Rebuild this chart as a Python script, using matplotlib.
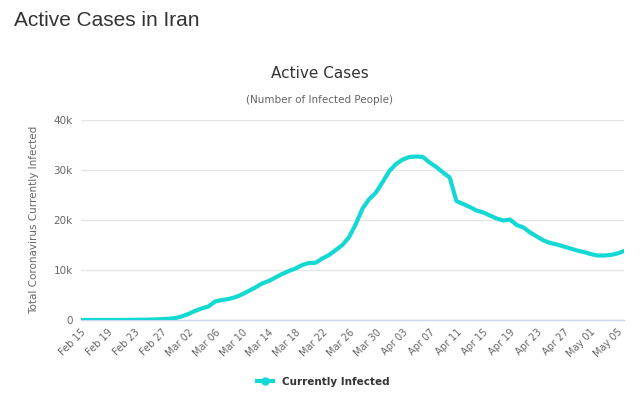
import datetime as dt
import matplotlib
matplotlib.use("Agg")
import matplotlib.pyplot as plt
from matplotlib.lines import Line2D

start = dt.date(2020, 2, 15)
active = [0, 0, 0, 0, 2, 3, 16, 24, 37, 52,
          80, 110, 160, 250, 380, 700, 1200, 1800, 2300, 2700,
          3700, 4000, 4200, 4550, 5100, 5800, 6500, 7300, 7800, 8500,
          9200, 9800, 10300, 11000, 11400, 11450, 12300, 13000, 14000, 15000,
          16600, 19200, 22300, 24200, 25500, 27600, 29800, 31200, 32100, 32600,
          32700, 32600, 31500, 30600, 29500, 28500, 23800, 23200, 22600, 21900,
          21500, 20900, 20300, 19900, 20100, 19000, 18500, 17500, 16700, 15900,
          15400, 15100, 14700, 14300, 13900, 13600, 13200, 12900, 12900, 13000,
          13300, 13800]
dates = [start + dt.timedelta(days=i) for i in range(len(active))]
date_labels = [d.strftime("%b %d") for d in dates]
yticks = [0, 10000, 20000, 30000, 40000]
ytick_labels = ["0", "10k", "20k", "30k", "40k"]

color = "#14d8d3"
fig = plt.figure(figsize=(6.4, 4.2), dpi=100)
ax = fig.add_axes([81/640, 1-320/420, (624-81)/640, 200/420])
x = list(range(len(active)))
ax.plot(x, active, color=color, lw=3.0, solid_joinstyle="round", solid_capstyle="round", zorder=3)
ax.set_xlim(0, len(active) - 1)
ax.set_ylim(0, 40000)
ax.set_yticks(yticks)
ax.set_yticklabels(ytick_labels, color="#666666", fontsize=7.5)
tick_pos = list(range(0, len(active), 4))
ax.set_xticks(tick_pos)
ax.set_xticklabels([date_labels[i] for i in tick_pos], rotation=45, ha="right",
                   rotation_mode="anchor", color="#666666", fontsize=7)
ax.tick_params(axis="both", length=0, pad=6)
ax.tick_params(axis="x", pad=5)
for s in ["top", "right", "left"]:
    ax.spines[s].set_visible(False)
ax.spines["bottom"].set_color("#ccd6eb")
ax.spines["bottom"].set_linewidth(1)
ax.grid(axis="y", color="#e6e6e6", lw=1)
ax.set_axisbelow(True)
ax.set_ylabel("Total Coronavirus Currently Infected", color="#666666", fontsize=7.5, labelpad=10)

fig.text(14/640, 1-20/420, "Active Cases in Iran", fontsize=15, color="#333333",
         family="Liberation Sans", va="center", ha="left")
fig.text(320/640, 1-73/420, "Active Cases", fontsize=11, color="#333333", ha="center", va="center")
fig.text(320/640, 1-100/420, "(Number of Infected People)", fontsize=7.5, color="#666666",
         ha="center", va="center")

handle = Line2D([], [], color=color, lw=3, marker="o", markersize=5)
fig.legend([handle], ["Currently Infected"], loc="center", bbox_to_anchor=(323/640, 1-382/420),
           frameon=False, prop={"weight": "bold", "size": 7.5}, handlelength=1.6,
           labelcolor="#333333")
fig.savefig("out.png", dpi=100)
